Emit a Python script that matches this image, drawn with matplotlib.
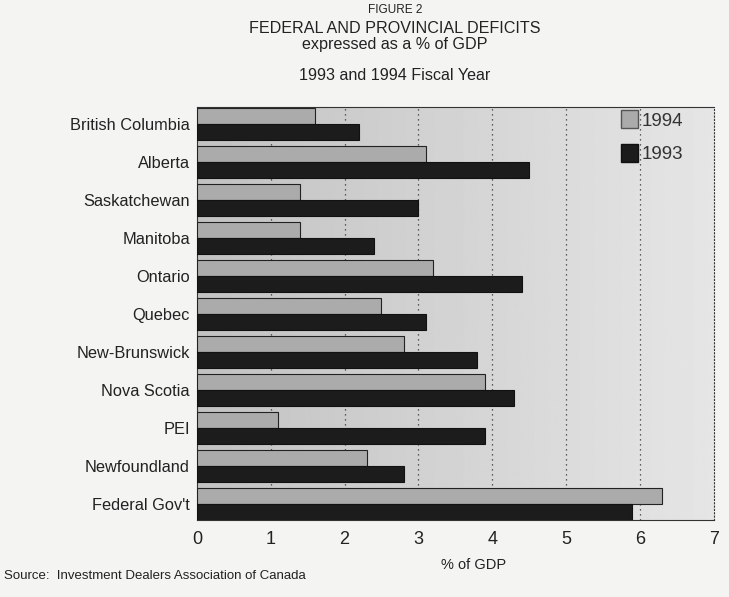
import numpy as np
import matplotlib
matplotlib.use("Agg")
import matplotlib.pyplot as plt
from matplotlib.patches import Patch

plt.rcParams['font.family'] = ['Liberation Sans', 'DejaVu Sans']

categories = ["British Columbia", "Alberta", "Saskatchewan", "Manitoba", "Ontario",
              "Quebec", "New-Brunswick", "Nova Scotia", "PEI", "Newfoundland", "Federal Gov't"]
deficit_1994 = [1.6, 3.1, 1.4, 1.4, 3.2, 2.5, 2.8, 3.9, 1.1, 2.3, 6.3]
deficit_1993 = [2.2, 4.5, 3.0, 2.4, 4.4, 3.1, 3.8, 4.3, 3.9, 2.8, 5.9]
x_ticks = [0, 1, 2, 3, 4, 5, 6, 7]

fig = plt.figure(figsize=(7.29, 5.97), dpi=100)
fig.patch.set_facecolor('#f4f4f2')
ax = fig.add_axes([0.270, 0.129, 0.709, 0.692])

n = len(categories)
y = np.arange(n)
h = 0.42
y_top, y_bot = -0.45, n - 1 + 0.43

# background gradient
grad = np.linspace(0.76, 0.90, 256)[None, :]
ax.imshow(grad, extent=[0, 7, y_bot, y_top], aspect='auto', cmap='gray',
          vmin=0, vmax=1, zorder=0, interpolation='bilinear')

ax.barh(y - h / 2, deficit_1994, height=h, color='#ababab', edgecolor='#222222',
        linewidth=0.8, zorder=3, label='1994')
ax.barh(y + h / 2, deficit_1993, height=h, color='#1c1c1c', edgecolor='#111111',
        linewidth=0.8, zorder=3, label='1993')

for t in x_ticks[1:-1]:
    ax.axvline(t, color='#333333', linestyle=(0, (1, 3)), linewidth=0.9, zorder=1)

ax.set_xlim(0, 7)
ax.set_ylim(y_bot, y_top)
ax.set_xticks(x_ticks)
ax.set_xticklabels([str(t) for t in x_ticks], fontsize=13, color='#222222')
ax.set_yticks(y)
ax.set_yticklabels(categories, fontsize=11.8, color='#222222')
ax.tick_params(axis='y', length=0, pad=5)
ax.tick_params(axis='x', length=0, pad=8)
for s in ax.spines.values():
    s.set_color('#333333')
    s.set_linewidth(0.8)
ax.spines['right'].set_linestyle((0, (1, 2)))

ax.set_xlabel('% of GDP', fontsize=10.5, color='#222222')
ax.xaxis.set_label_coords(0.536, -0.109)
ax.xaxis.label.set_va('center')

leg = ax.legend(handles=[Patch(facecolor='#ababab', edgecolor='#555555', label='1994'),
                         Patch(facecolor='#1c1c1c', edgecolor='#111111', label='1993')],
                loc='upper right', bbox_to_anchor=(0.955, 1.01), frameon=False,
                fontsize=13.5, handlelength=0.9, handleheight=1.1, handletextpad=0.2,
                labelspacing=0.75, borderaxespad=0.0)
for t in leg.get_texts():
    t.set_color('#333333')

cx = 0.542
fig.text(cx, 0.983, 'FIGURE 2', ha='center', va='center', fontsize=8.5, color='#222222')
fig.text(cx, 0.953, 'FEDERAL AND PROVINCIAL DEFICITS', ha='center', va='center',
         fontsize=11.6, color='#222222')
fig.text(cx, 0.925, 'expressed as a % of GDP', ha='center', va='center',
         fontsize=11.6, color='#222222')
fig.text(cx, 0.873, '1993 and 1994 Fiscal Year', ha='center', va='center',
         fontsize=11.6, color='#222222')
fig.text(0.005, 0.036, 'Source:  Investment Dealers Association of Canada', ha='left',
         va='center', fontsize=9.5, color='#222222')

fig.savefig('out.png', dpi=100, facecolor=fig.get_facecolor())
